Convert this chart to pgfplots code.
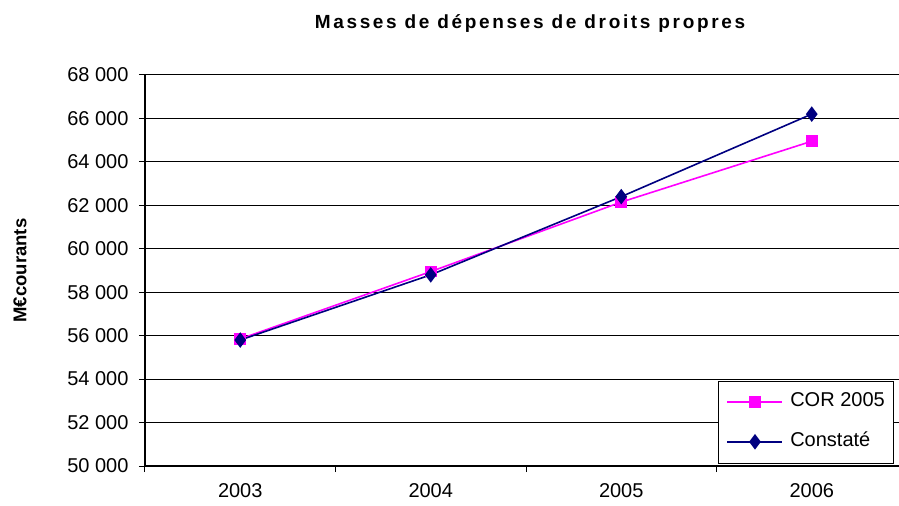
\documentclass[border=0pt]{standalone}
\usepackage{fontspec}
\setmainfont{Liberation Sans}
\usepackage{pgfplots}
\pgfplotsset{compat=1.18}

\definecolor{corpink}{RGB}{255,0,255}
\definecolor{constnavy}{RGB}{0,0,128}

\newcommand{\tickfont}{\fontsize{20bp}{24bp}\selectfont}

\begin{document}
\begin{tikzpicture}
  % page = 899 x 506 px, the plot area runs past the right edge as in the source
  \useasboundingbox (-145bp,-40bp) rectangle (754bp,466bp);

  \begin{axis}[
      at={(0,0)}, anchor=south west,
      scale only axis,
      width=762bp, height=391bp,
      xmin=-0.5, xmax=3.5,
      ymin=50000, ymax=68000,
      scaled y ticks=false,
      axis x line*=bottom,
      axis y line*=left,
      axis line style={black, line width=1.2bp},
      ytick={50000,52000,...,68000},
      yticklabels={50 000,52 000,54 000,56 000,58 000,60 000,62 000,64 000,66 000,68 000},
      ymajorgrids,
      major grid style={black, line width=1bp},
      tick align=outside,
      major tick length=6bp,
      tick style={black, line width=1bp},
      tick label style={font=\tickfont},
      yticklabel style={xshift=-7bp},
      % boundary ticks on the x axis, year labels centred between them
      xtick={-0.5,0.5,1.5,2.5},
      xticklabels={},
      extra x ticks={0,1,2,3},
      extra x tick labels={2003,2004,2005,2006},
      extra x tick style={major tick length=0pt, grid=none,
        xticklabel style={yshift=-14bp}},
      legend style={
          at={(0.9816,0.0077)}, anchor=south east,
          draw=black, fill=white,
          font=\tickfont,
          nodes={inner sep=0pt, text height=14bp, text depth=4bp},
          inner xsep=8bp, inner ysep=12bp,
          column sep=7bp, row sep=22bp,
          cells={anchor=west},
        },
      legend image code/.code={
          \draw[mark repeat=2, mark phase=2, #1, line width=1.6bp]
            plot coordinates {(0bp,0bp) (27.5bp,0bp) (55bp,0bp)};
        },
    ]

    % COR 2005 projection
    \addplot[corpink, line width=1.6bp, mark=square*, mark size=5bp,
      mark options={solid}]
    coordinates {
        (0,55850)
        (1,58950)
        (2,62150)
        (3,64950)
      };
    \addlegendentry{COR 2005}

    % observed values
    \addplot[constnavy, line width=1.6bp, mark=diamond*, mark size=6.5bp,
      mark options={solid}]
    coordinates {
        (0,55800)
        (1,58800)
        (2,62400)
        (3,66200)
      };
    \addlegendentry{Constaté}

  \end{axis}

  % chart title and y axis title
  \node[anchor=base,
    font=\bfseries\fontsize{19bp}{23bp}\selectfont\addfontfeature{LetterSpace=14}]
    at (385bp,437bp) {Masses de dépenses de droits propres};
  \node[rotate=90, font=\bfseries\fontsize{18.5bp}{22bp}\selectfont]
    at (-125bp,195.5bp) {M€courants};
\end{tikzpicture}
\end{document}
